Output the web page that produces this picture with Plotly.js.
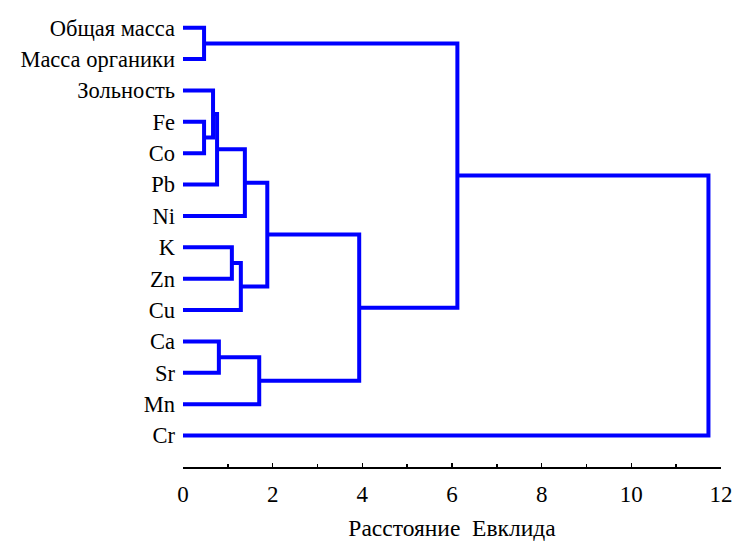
<!DOCTYPE html>
<html>
<head>
<meta charset="utf-8">
<script src="https://cdn.plot.ly/plotly-3.0.1.min.js"></script>
<style>html,body{margin:0;padding:0;background:#fff;}#chart{width:736px;height:541px;}</style>
</head>
<body>
<div id="chart"></div>
<script>
// Leaves, top to bottom
const labels = ['Общая масса','Масса органики','Зольность','Fe','Co','Pb','Ni','K','Zn','Cu','Ca','Sr','Mn','Cr'];
// Linkage: cluster ids continue after leaves (14, 15, ...)
const mergeA = [0, 3, 2, 5, 10, 7, 9, 6, 12, 21, 23, 14, 25];
const mergeB = [1, 4, 15, 16, 11, 8, 19, 17, 18, 20, 22, 24, 13];
const mergeHeight = [0.47, 0.47, 0.67, 0.76, 0.80, 1.09, 1.29, 1.38, 1.70, 1.88, 3.93, 6.12, 11.72];
const xTickVals = [0, 2, 4, 6, 8, 10, 12];
const xTitle = 'Расстояние  Евклида';

const n = labels.length;
const pos = [], hgt = [];
for (let i = 0; i < n; i++) { pos.push(i); hgt.push(0); }
const xs = [], ys = [];
for (let k = 0; k < mergeA.length; k++) {
  const a = mergeA[k], b = mergeB[k], h = mergeHeight[k];
  xs.push(hgt[a], h, h, hgt[b], null);
  ys.push(pos[a], pos[a], pos[b], pos[b], null);
  pos.push((pos[a] + pos[b]) / 2);
  hgt.push(h);
}

const font = 'Liberation Serif';
const trace = {
  x: xs, y: ys, type: 'scatter', mode: 'lines',
  line: {color: '#0000ff', width: 4},
  hoverinfo: 'skip', showlegend: false
};
const layout = {
  width: 736, height: 541,
  margin: {l: 183, r: 15, t: 12, b: 74},
  paper_bgcolor: '#fff', plot_bgcolor: '#fff',
  font: {family: font, size: 22, color: '#000'},
  xaxis: {
    range: [0, 12], showgrid: false, zeroline: false,
    showline: true, linecolor: '#000', linewidth: 2,
    tickvals: xTickVals, ticks: 'inside', ticklen: 4, tickwidth: 1.5, tickcolor: '#000',
    minor: {dtick: 1, tick0: 0, ticks: 'inside', ticklen: 3, tickcolor: '#000', tickwidth: 1.5},
    ticklabelstandoff: 5,
    tickfont: {family: font, size: 23, color: '#000'},
    title: {text: xTitle, font: {family: font, size: 23.5, color: '#000'}, standoff: 18}
  },
  yaxis: {
    range: [14.0, -0.5], showgrid: false, zeroline: false, showline: false,
    tickvals: labels.map((_, i) => i), ticktext: labels, ticks: '',
    ticklabelstandoff: 7,
    tickfont: {family: font, size: 22.5, color: '#000'}
  }
};
Plotly.newPlot('chart', [trace], layout, {displayModeBar: false, staticPlot: true});
</script>
</body>
</html>
